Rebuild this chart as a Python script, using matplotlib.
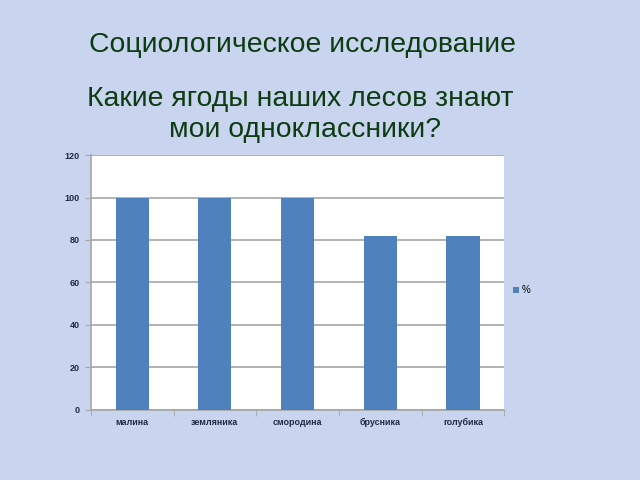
import matplotlib.pyplot as plt
import numpy as np

categories = ["малина", "земляника", "смородина", "брусника", "голубика"]
values = [100, 100, 100, 82, 82]
series_name = "%"
title = "Социологическое исследование"
question_lines = ["Какие ягоды наших лесов знают", "мои одноклассники?"]
yticks = [0, 20, 40, 60, 80, 100, 120]

plt.rcParams["font.family"] = ["Liberation Sans", "DejaVu Sans"]

fig = plt.figure(figsize=(6.4, 4.8), dpi=100)
fig.patch.set_facecolor("#c9d5ef")

txt_color = "#0d3b12"
fig.text(0.4727, 0.8917, title, ha="center", va="baseline", fontsize=20.4, color=txt_color)
fig.text(0.469, 0.779, question_lines[0], ha="center", va="baseline", fontsize=20.4, color=txt_color)
fig.text(0.476, 0.714, question_lines[1], ha="center", va="baseline", fontsize=20.4, color=txt_color)

ax = fig.add_axes([0.142, 0.146, 0.646, 0.531])
ax.set_facecolor("white")
x = np.arange(len(categories))
ax.bar(x, values, width=0.4, color="#4f81bd", label=series_name, zorder=3)

ax.set_ylim(0, 120)
ax.set_xlim(-0.5, len(categories) - 0.5)
ax.set_yticks(yticks)
ax.yaxis.grid(True, color="#a6a6a6", linewidth=1.2, zorder=0)
ax.set_xticks(x)
ax.set_xticklabels(categories)
ax.set_xticks(np.arange(-0.5, len(categories)), minor=True)
ax.tick_params(axis="x", which="major", length=0, pad=6)
ax.tick_params(axis="x", which="minor", length=4, color="#a6a6a6")
ax.tick_params(axis="y", length=4, color="#a6a6a6", pad=4)
for lab in ax.get_xticklabels() + ax.get_yticklabels():
    lab.set_fontsize(6.5)
    lab.set_fontweight("bold")
    lab.set_color("#1f2a44")

for s in ["top", "right"]:
    ax.spines[s].set_visible(False)
for s in ["left", "bottom"]:
    ax.spines[s].set_color("#a6a6a6")
    ax.spines[s].set_linewidth(1.2)

leg = ax.legend(loc="center left", bbox_to_anchor=(1.0, 0.47), frameon=False,
                fontsize=7, handlelength=0.6, handleheight=0.6, handletextpad=0.3)

plt.savefig("out.png", dpi=100, facecolor=fig.get_facecolor())
